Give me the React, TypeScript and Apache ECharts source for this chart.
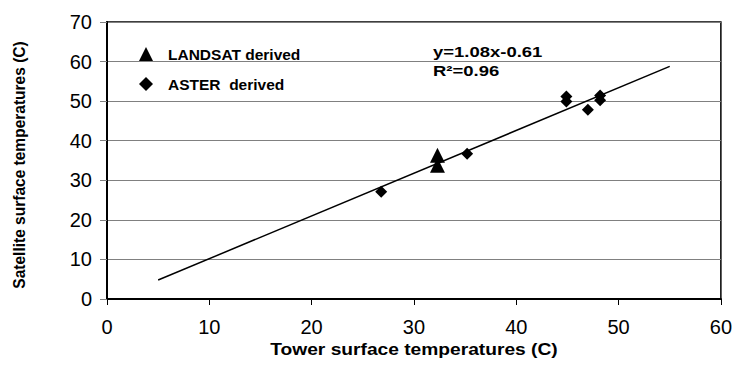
import React, { useEffect, useRef } from "react";
import * as echarts from "echarts";

const landsatX = [32.3, 32.3];
const landsatY = [36.3, 33.8];
const asterX = [26.8, 35.2, 44.9, 44.9, 47.0, 48.2, 48.2];
const asterY = [27.1, 36.7, 51.2, 49.9, 47.8, 51.4, 50.2];
const trendX = [5, 55];
const trendY = [4.79, 58.79];
const xTicks = [0, 10, 20, 30, 40, 50, 60];
const yTicks = [0, 10, 20, 30, 40, 50, 60, 70];
const equationLines = ["y=1.08x-0.61", "R²=0.96"];
const xTitle = "Tower surface temperatures (C)";
const yTitle = "Satellite surface temperatures (C)";

export default function App() {
  const ref = useRef<HTMLDivElement>(null);
  useEffect(() => {
    if (!ref.current) return;
    const chart = echarts.init(ref.current, null, { renderer: "svg" });
    const font = "'Liberation Sans', Arial, sans-serif";
    chart.setOption({
      animation: false,
      backgroundColor: "#ffffff",
      grid: {
        left: 107,
        right: 13,
        top: 22,
        bottom: 81,
        show: true,
        borderColor: "#000000",
        borderWidth: 1.5,
        backgroundColor: "transparent",
      },
      legend: {
        orient: "vertical",
        left: 134,
        top: 41,
        itemGap: 14,
        itemWidth: 14,
        itemHeight: 14,
        textStyle: { fontFamily: font, fontWeight: "bold", fontSize: 15.5, color: "#000", padding: [0, 0, 0, 10] },
        data: [
          { name: "LANDSAT derived", icon: "triangle", itemStyle: { color: "#000", opacity: 1 } },
          { name: "ASTER  derived", icon: "diamond", itemStyle: { color: "#000", opacity: 1 } },
        ],
      },
      xAxis: {
        type: "value",
        min: xTicks[0],
        max: xTicks[xTicks.length - 1],
        interval: 10,
        axisLine: { show: true, lineStyle: { color: "#000", width: 2 } },
        axisTick: { show: true, length: 6, lineStyle: { color: "#000", width: 1 } },
        axisLabel: { fontFamily: font, fontSize: 20, color: "#000", margin: 18 },
        splitLine: { show: false },
      },
      yAxis: {
        type: "value",
        min: yTicks[0],
        max: yTicks[yTicks.length - 1],
        interval: 10,
        axisLine: { show: true, lineStyle: { color: "#000", width: 2 } },
        axisTick: { show: true, length: 7, lineStyle: { color: "#808080", width: 1 } },
        axisLabel: { fontFamily: font, fontSize: 20, color: "#000", margin: 15 },
        splitLine: { show: true, lineStyle: { color: "#808080", width: 1 } },
      },
      graphic: [
        {
          type: "text",
          x: 414,
          y: 350,
          scaleX: 1.2,
          style: { text: xTitle, fontFamily: font, fontWeight: "bold", fontSize: 16, fill: "#000", align: "center", verticalAlign: "middle" },
        },
        {
          type: "text",
          x: 19,
          y: 165,
          rotation: Math.PI / 2,
          scaleX: 0.97,
          style: { text: yTitle, fontFamily: font, fontWeight: "bold", fontSize: 16, fill: "#000", align: "center", verticalAlign: "middle" },
        },
        {
          type: "text",
          x: 433,
          y: 45,
          scaleX: 1.32,
          style: { text: equationLines[0], fontFamily: font, fontWeight: "bold", fontSize: 14, fill: "#000" },
        },
        {
          type: "text",
          x: 433,
          y: 64,
          scaleX: 1.32,
          style: { text: equationLines[1], fontFamily: font, fontWeight: "bold", fontSize: 14, fill: "#000" },
        },
      ],
      series: [
        {
          name: "trend",
          type: "line",
          data: trendX.map((x, i) => [x, trendY[i]]),
          showSymbol: false,
          symbol: "none",
          lineStyle: { color: "#000", width: 1.5 },
          silent: true,
          z: 3,
        },
        {
          name: "LANDSAT derived",
          type: "scatter",
          symbol: "triangle",
          symbolSize: 15,
          itemStyle: { color: "#000", opacity: 1 },
          data: landsatX.map((x, i) => [x, landsatY[i]]),
          z: 4,
        },
        {
          name: "ASTER  derived",
          type: "scatter",
          symbol: "diamond",
          symbolSize: 12,
          itemStyle: { color: "#000", opacity: 1 },
          data: asterX.map((x, i) => [x, asterY[i]]),
          z: 4,
        },
      ],
    });
    return () => chart.dispose();
  }, []);
  return <div ref={ref} style={{ width: 735, height: 380, position: "absolute", left: 0, top: 0 }} />;
}
